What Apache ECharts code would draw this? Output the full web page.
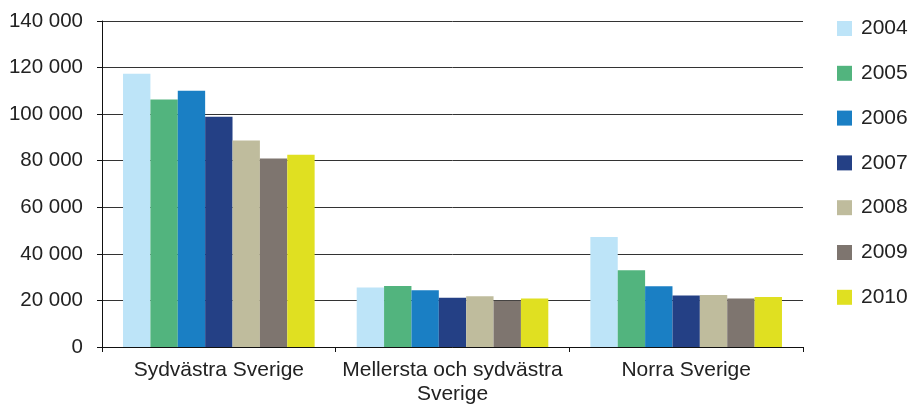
<!DOCTYPE html>
<html>
<head>
<meta charset="utf-8">
<script src="https://cdn.jsdelivr.net/npm/echarts@6/dist/echarts.min.js"></script>
<style>
  html, body { margin: 0; padding: 0; background: #fff; }
  #chart { width: 908px; height: 406px; }
</style>
</head>
<body>
<div id="chart"></div>
<script>
// regioner och år
const regioner = ['Sydvästra Sverige', 'Mellersta och sydvästra\nSverige', 'Norra Sverige'];
const ar = ['2004', '2005', '2006', '2007', '2008', '2009', '2010'];
const farger = ['#bde4f8', '#52b47e', '#1a7fc4', '#244085', '#bfbc9d', '#7e756f', '#e0e021'];

// värden per år (Sydvästra, Mellersta, Norra)
const v2004 = [117300, 25500, 47200];
const v2005 = [106300, 26200, 33000];
const v2006 = [110000, 24400, 26100];
const v2007 = [98900, 21100, 22100];
const v2008 = [88700, 21800, 22300];
const v2009 = [80900, 19900, 20800];
const v2010 = [82600, 20800, 21500];
const varden = [v2004, v2005, v2006, v2007, v2008, v2009, v2010];

const font = 'Liberation Sans, Arial, sans-serif';
const chart = echarts.init(document.getElementById('chart'));

const series = ar.map((a, i) => ({
  name: a,
  type: 'bar',
  data: varden[i],
  barGap: '0%',
  barCategoryGap: '18%',
  itemStyle: { color: farger[i] },
  emphasis: { disabled: true }
}));

chart.setOption({
  animation: false,
  grid: { left: 102, right: 105, top: 21, bottom: 59, containLabel: false },
  legend: {
    data: ar,
    orient: 'vertical',
    left: 832,
    top: 13,
    itemWidth: 15,
    itemHeight: 15,
    itemGap: 23.8,
    icon: 'rect',
    textStyle: { fontFamily: font, fontSize: 21, color: '#222', padding: [0, 0, 0, 4] }
  },
  xAxis: {
    type: 'category',
    data: regioner,
    axisLine: { lineStyle: { color: '#111', width: 1 } },
    axisTick: { show: true, length: 5, lineStyle: { color: '#111' } },
    axisLabel: { interval: 0, fontFamily: font, fontSize: 21, color: '#222', margin: 11, lineHeight: 24 }
  },
  yAxis: {
    type: 'value',
    min: 0,
    max: 140000,
    interval: 20000,
    axisLine: { show: true, lineStyle: { color: '#111', width: 1 } },
    axisTick: { show: true, length: 5, lineStyle: { color: '#111' } },
    axisLabel: {
      fontFamily: font, fontSize: 20.5, color: '#222', margin: 19,
      formatter: v => v === 0 ? '0' : String(v).replace(/\B(?=(\d{3})+(?!\d))/g, ' ')
    },
    splitLine: { lineStyle: { color: '#333', width: 1 } }
  },
  series: series
});
</script>
</body>
</html>
